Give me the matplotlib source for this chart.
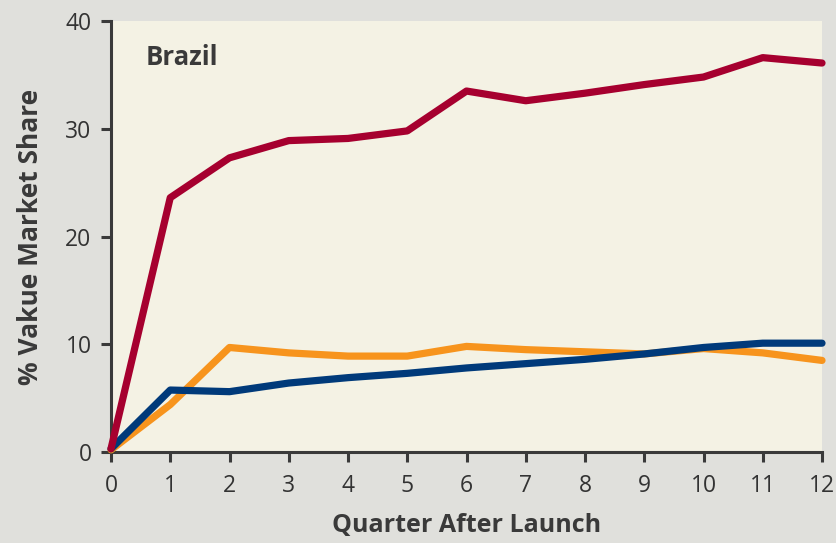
import matplotlib.pyplot as plt

quarters = list(range(13))
red_share = [0.3, 23.6, 27.3, 28.9, 29.1, 29.8, 33.5, 32.6, 33.3, 34.1, 34.8, 36.6, 36.1]
orange_share = [0.2, 4.4, 9.7, 9.2, 8.9, 8.9, 9.8, 9.5, 9.3, 9.1, 9.6, 9.2, 8.5]
blue_share = [0.3, 5.75, 5.6, 6.4, 6.9, 7.3, 7.8, 8.2, 8.6, 9.1, 9.7, 10.1, 10.1]
y_ticks = [0, 10, 20, 30, 40]

axis_col = "#3a3a3a"
plt.rcParams['font.family'] = ['Open Sans', 'DejaVu Sans']

fig = plt.figure(figsize=(8.36, 5.43), dpi=100, facecolor="#e0e0dc")
ax = fig.add_axes([111/836, 91/543, 711/836, 431/543])
ax.set_facecolor("#f4f2e4")

ax.plot(quarters, orange_share, color="#f7941d", lw=5.2, solid_capstyle='round', clip_on=False, zorder=3)
ax.plot(quarters, blue_share, color="#003a7a", lw=5.2, solid_capstyle='round', clip_on=False, zorder=4)
ax.plot(quarters, red_share, color="#a6002f", lw=5.2, solid_capstyle='round', clip_on=False, zorder=5)

ax.set_xlim(0, 12)
ax.set_ylim(0, 40)
ax.set_xticks(quarters)
ax.set_yticks(y_ticks)

for s in ['top', 'right']:
    ax.spines[s].set_visible(False)
for s in ['left', 'bottom']:
    ax.spines[s].set_color(axis_col)
    ax.spines[s].set_linewidth(2.2)

ax.tick_params(axis='both', colors=axis_col, labelcolor="#333333", width=2.2, length=7,
               labelsize=16.5, direction='out')
ax.tick_params(axis='y', pad=7)
ax.tick_params(axis='x', pad=9)

ax.set_xlabel("Quarter After Launch", fontsize=18, fontweight='bold', color="#3a3a3a", labelpad=11)
ax.set_ylabel("% Vakue Market Share", fontsize=19, fontweight='bold', color="#3a3a3a", labelpad=15)

ax.text(0.049, 0.915, "Brazil", transform=ax.transAxes, fontsize=18.5, fontweight='bold',
        color="#3a3a3a", va='center', ha='left')

fig.savefig("out.png", dpi=100, facecolor=fig.get_facecolor())
